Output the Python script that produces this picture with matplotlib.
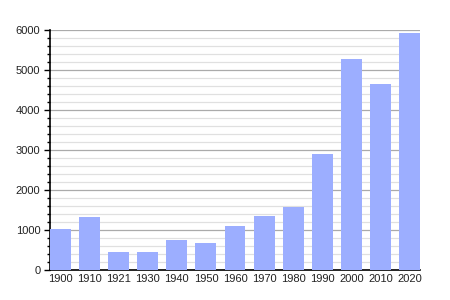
import matplotlib
matplotlib.use("Agg")
import matplotlib.pyplot as plt
from matplotlib.ticker import MultipleLocator

years = ["1900", "1910", "1921", "1930", "1940", "1950", "1960",
         "1970", "1980", "1990", "2000", "2010", "2020"]
population = [1030, 1330, 460, 460, 750, 680, 1100,
              1350, 1580, 2900, 5280, 4660, 5930]

plt.rcParams['font.family'] = ['Liberation Sans', 'DejaVu Sans']

fig = plt.figure(figsize=(4.5, 3.0), dpi=100)
ax = fig.add_axes([50/450, 0.1, 370/450, 0.7987])

x = list(range(len(years)))
ax.bar(x, population, width=0.72, color='#9caeff', zorder=3)

ax.set_xlim(-0.36, len(years) - 1 + 0.36)
ax.set_ylim(0, 6000)
ax.set_xticks(x)
ax.set_xticklabels(years)
ax.yaxis.set_major_locator(MultipleLocator(1000))
ax.yaxis.set_minor_locator(MultipleLocator(200))

ax.grid(axis='y', which='major', color='#aaaaaa', linewidth=0.9, zorder=1)
ax.grid(axis='y', which='minor', color='#e0e0e0', linewidth=0.9, zorder=0)

for s in ['top', 'right']:
    ax.spines[s].set_visible(False)
ax.spines['left'].set_color('black')
ax.spines['bottom'].set_color('black')
ax.spines['left'].set_linewidth(1.2)
ax.spines['bottom'].set_linewidth(1.2)

ax.tick_params(axis='y', which='major', length=4, width=1, labelsize=8, pad=3, colors='black')
ax.tick_params(axis='y', which='minor', length=2, width=1)
ax.tick_params(axis='x', which='major', length=0, labelsize=8, pad=3)
for lbl in ax.get_xticklabels() + ax.get_yticklabels():
    lbl.set_color('#222222')

fig.savefig("out.png", dpi=100)
